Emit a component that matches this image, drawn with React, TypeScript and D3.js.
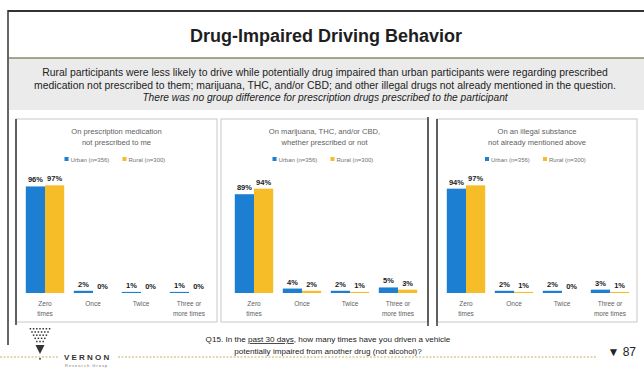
import * as d3 from "d3"

const categories = ["Zero times", "Once", "Twice", "Three or more times"]
const categoryLines = [["Zero", "times"], ["Once"], ["Twice"], ["Three or", "more times"]]
const seriesNames = ["Urban (n=356)", "Rural (n=300)"]

const panelTitles = [
  ["On prescription medication", "not prescribed to me"],
  ["On marijuana, THC, and/or CBD,", "whether prescribed or not"],
  ["On an illegal substance", "not already mentioned above"],
]

const rxUrban = [96, 2, 1, 1]
const rxRural = [97, 0, 0, 0]
const thcUrban = [89, 4, 2, 5]
const thcRural = [94, 2, 1, 3]
const illegalUrban = [94, 2, 2, 3]
const illegalRural = [97, 1, 0, 1]

const subtitleLines = [
  "Rural participants were less likely to drive while potentially drug impaired than urban participants were regarding prescribed",
  "medication not prescribed to them; marijuana, THC, and/or CBD; and other illegal drugs not already mentioned in the question.",
]
const subtitleItalic = "There was no group difference for prescription drugs prescribed to the participant"

const COLORS = ["#1c7fd1", "#f6bd28"]
const FONT = "'Liberation Sans', Arial, sans-serif"

const panels = [
  { urban: rxUrban, rural: rxRural, x0: 21, box: [16, 217] },
  { urban: thcUrban, rural: thcRural, x0: 230, box: [221, 428] },
  { urban: illegalUrban, rural: illegalRural, x0: 442, box: [437, 637] },
]

const W = 644
const H = 368
const baseY = 293

function Panel({ idx }: { idx: number }) {
  const p = panels[idx]
  const x = d3.scaleBand<string>().domain(categories).range([p.x0, p.x0 + 192]).paddingInner(0.2).paddingOuter(0.1)
  const xs = d3.scaleBand<string>().domain(seriesNames).range([0, x.bandwidth()])
  const y = d3.scaleLinear().domain([0, 100]).range([baseY, baseY - 111])
  const cx = (p.box[0] + p.box[1]) / 2
  const values = [p.urban, p.rural]
  return (
    <g>
      <rect x={p.box[0]} y={119} width={p.box[1] - p.box[0]} height={203} fill="#fff" stroke="#c8c8c8" strokeWidth={1} />
      {panelTitles[idx].map((t, i) => (
        <text key={i} x={cx} y={134 + i * 11} textAnchor="middle" fontSize={7.6} fill="#606060">
          {t}
        </text>
      ))}
      {seriesNames.map((s, i) => {
        const lx = cx - 52 + i * 58
        return (
          <g key={s}>
            <rect x={lx} y={157} width={4} height={4} fill={COLORS[i]} />
            <text x={lx + 6} y={161.5} fontSize={6} fill="#707070">
              {s}
            </text>
          </g>
        )
      })}
      {categories.map((c, ci) => (
        <g key={c}>
          {values.map((vals, si) => {
            const v = vals[ci]
            const bx = (x(c) ?? 0) + (xs(seriesNames[si]) ?? 0)
            const top = y(v)
            return (
              <g key={si}>
                <rect x={bx} y={top} width={xs.bandwidth()} height={baseY - top} fill={COLORS[si]} />
                <text
                  x={bx + xs.bandwidth() / 2}
                  y={top - 4}
                  textAnchor="middle"
                  fontSize={7.5}
                  fontWeight="bold"
                  fill="#1a1a1a"
                >
                  {v}%
                </text>
              </g>
            )
          })}
          {categoryLines[ci].map((l, li) => (
            <text
              key={li}
              x={(x(c) ?? 0) + x.bandwidth() / 2}
              y={306 + li * 10}
              textAnchor="middle"
              fontSize={6.5}
              fill="#606060"
            >
              {l}
            </text>
          ))}
        </g>
      ))}
    </g>
  )
}

function Logo() {
  const rows = [7, 6, 5, 4, 3]
  return (
    <g>
      {rows.map((n, r) =>
        d3.range(n).map((k) => (
          <rect
            key={`${r}-${k}`}
            x={40 - (n - 1) * 1.6 + k * 3.2 - 0.75}
            y={328 + r * 3.2}
            width={1.5}
            height={1.5}
            fill="#333"
          />
        )),
      )}
      <path d="M35.5,345 L44.5,345 L40,354 Z" fill="#333" />
      <rect x={39.2} y={358} width={1.6} height={1.6} fill="#333" />
      <text x={64} y={360} fontSize={8} fontWeight="bold" letterSpacing={2.2} fill="#333">
        VERNON
      </text>
      <text x={65} y={367} fontSize={4} letterSpacing={1} fill="#777">
        Research Group
      </text>
    </g>
  )
}

export default function App() {
  return (
    <svg
      width={W}
      height={H}
      style={{ position: "absolute", left: 0, top: 0, fontFamily: FONT, background: "#fff" }}
    >
      <rect x={0} y={0} width={W} height={H} fill="#fff" />
      <line x1={8} y1={11} x2={W} y2={11} stroke="#333" strokeWidth={2} />
      <line x1={8} y1={10} x2={8} y2={345} stroke="#333" strokeWidth={1.5} />
      <text x={326} y={42} textAnchor="middle" fontSize={18} fontWeight="bold" fill="#1e1e1e">
        Drug-Impaired Driving Behavior
      </text>
      <rect x={9} y={58} width={W - 9} height={52} fill="#ebebeb" />
      <line x1={9} y1={58} x2={W} y2={58} stroke="#8a8a6a" strokeWidth={1.5} />
      {subtitleLines.map((t, i) => (
        <text key={i} x={325} y={76 + i * 12.5} textAnchor="middle" fontSize={10.4} fill="#222">
          {t}
        </text>
      ))}
      <text x={325} y={101} textAnchor="middle" fontSize={10.2} fontStyle="italic" fill="#222">
        {subtitleItalic}
      </text>
      {panels.map((_, i) => (
        <Panel key={i} idx={i} />
      ))}
      <line x1={16} y1={119} x2={16} y2={325} stroke="#333" strokeWidth={1.5} />
      <line x1={428} y1={117} x2={428} y2={326} stroke="#333" strokeWidth={1.5} />
      <line x1={437} y1={119} x2={437} y2={326} stroke="#333" strokeWidth={1.5} />
      <line x1={0} y1={357} x2={58} y2={357} stroke="#c8b060" strokeWidth={1} strokeDasharray="2,1.5" />
      <line x1={118} y1={357} x2={596} y2={357} stroke="#c8b060" strokeWidth={1} strokeDasharray="2,1.5" />
      <Logo />
      <text x={328} y={342} textAnchor="middle" fontSize={8.1} fill="#222">
        Q15. In the <tspan textDecoration="underline">past 30 days</tspan>, how many times have you driven a vehicle
      </text>
      <text x={328} y={354} textAnchor="middle" fontSize={8.1} fill="#222">
        potentially impaired from another drug (not alcohol)?
      </text>
      <text x={636} y={356} textAnchor="end" fontSize={12} fill="#222">
        ▼ 87
      </text>
    </svg>
  )
}
